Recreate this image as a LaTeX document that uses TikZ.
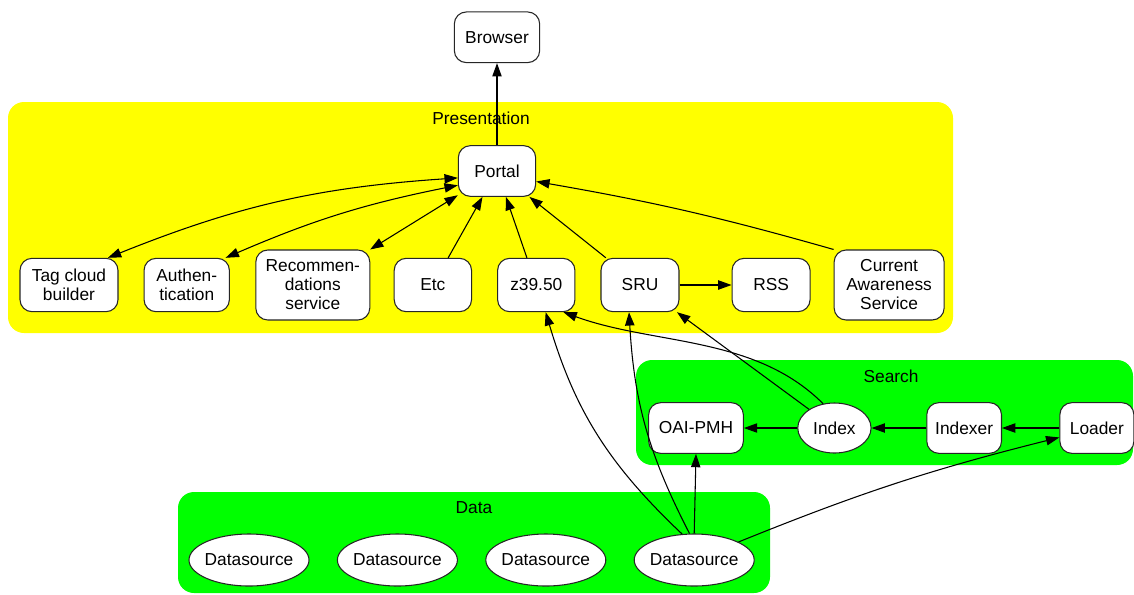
\documentclass[tikz,border=0pt]{standalone}
\usepackage{fontspec}
\setmainfont{Liberation Sans}
\usetikzlibrary{arrows.meta,positioning,shapes.geometric}
\definecolor{presyellow}{RGB}{255,255,0}
\definecolor{layergreen}{RGB}{0,255,0}

\begin{document}
\begin{tikzpicture}[->, >={Triangle[length=10pt,width=7pt]}, thick, x=0.75pt, y=-0.75pt,
        font=\fontsize{13}{14.25}\selectfont]
        \tikzstyle{box}=[draw=black!85, fill=white, rounded corners=9pt, align=center, minimum height=38pt, inner sep=2pt]
        \tikzstyle{src}=[draw=black!85, fill=white, ellipse, minimum width=90pt, minimum height=39pt, inner xsep=-1.5pt, inner ysep=0pt]
        \tikzstyle{cluster}=[-, rounded corners=12pt, draw=none]
        \useasboundingbox (0,0) rectangle (1134,594);

        % clusters
        \fill[cluster, presyellow] (8,102)   rectangle (953,333);
        \fill[cluster, layergreen] (636,360) rectangle (1133,465);
        \fill[cluster, layergreen] (178,492) rectangle (770,593);
        \node (preslabel)   at (481,118) {Presentation};
        \node (searchlabel) at (891,376) {Search};
        \node (datalabel)   at (474,508) {Data};

        \node[box, minimum width=58pt]    (portal) at (497,171)              {Portal};
        \node[box, minimum width=64pt]    (browser)[above=61.5pt of portal]  {Browser};

        \node[box, minimum width=73.5pt, minimum height=40pt] (tag) at (69,285)   {Tag cloud\\builder};
        \node[box, minimum width=64pt, minimum height=40pt]   (auth)[right=18.75pt of tag]  {Authen-\\tication};
        \node[box, minimum width=85.5pt, minimum height=52.5pt] (recom)[right=19pt of auth] {Recommen-\\dations\\service};
        \node[box, minimum width=58pt, minimum height=40pt]   (etc)[right=17.5pt of recom]  {Etc};
        \node[box, minimum width=58pt, minimum height=40pt]   (z3950)[right=18.75pt of etc] {z39.50};
        \node[box, minimum width=58.5pt, minimum height=40pt] (sru)[right=18.75pt of z3950] {SRU};
        \node[box, minimum width=58.5pt, minimum height=40pt] (rss)[right=39pt of sru]      {RSS};
        \node[box, minimum width=82.5pt, minimum height=52.5pt] (cas)[right=17.25pt of rss] {Current\\Awareness\\Service};

        \node[box, minimum width=71pt]    (oai) at (696,428)               {OAI-PMH};
        \node[src, minimum width=55pt, minimum height=37.5pt] (index)[right=40pt of oai] {Index};
        \node[box, minimum width=56pt]    (indexer)[right=41pt of index]   {Indexer};
        \node[box, minimum width=55.5pt]  (loader)[right=43pt of indexer]  {Loader};

        \node[src]    (ds1) at (249,560)              {Datasource};
        \node[src]    (ds2)[right=20.5pt of ds1]      {Datasource};
        \node[src]    (ds3)[right=20.5pt of ds2]      {Datasource};
        \node[src]    (ds4)[right=20.5pt of ds3]      {Datasource};

        \path
        (portal)
        edge                                (browser)

        (tag.35)
        edge[<->, bend left=9]              (portal.190)
        (auth.35)
        edge[<->, bend left=6]              (portal.200)
        (recom)
        edge[<->]                           (portal)

        (etc)   edge                        (portal)
        (z3950) edge                        (portal)
        (sru)   edge                        (portal)
                edge                        (rss)
        (cas.north west)
        edge[bend right=3]                  (portal.-15)

        (index.115)
        edge[out=135, in=-20, looseness=0.9] (z3950.-45)
        (index)
        edge                                (sru)
        edge                                (oai)
        (indexer) edge                      (index)
        (loader)  edge                      (indexer)

        (ds4.115)
        edge[bend left=15]                  (z3950.-71)
        (ds4.100)
        edge[bend left=12]                  (sru.-112)
        (ds4.north)
        edge                                (oai.south)
        (ds4)
        edge[bend left=4]                   (loader);
    \end{tikzpicture}
\end{document}
